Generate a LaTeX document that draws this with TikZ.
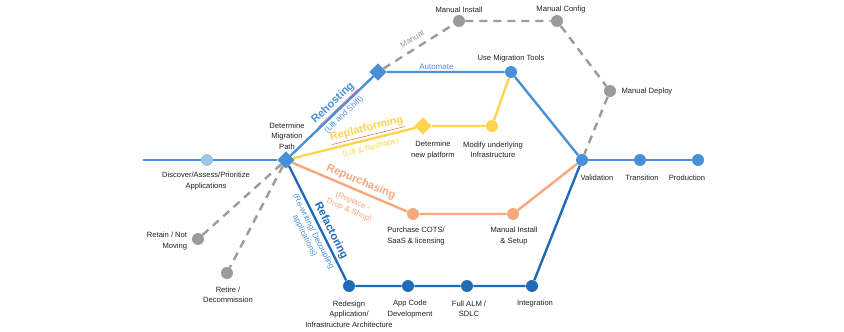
\documentclass[tikz,border=0pt]{standalone}
\usepackage{fontspec}
\setmainfont{Liberation Sans}
\usetikzlibrary{shapes.geometric}
\definecolor{mblue}{HTML}{4A90D9}
\definecolor{lblue}{HTML}{9DC3E6}
\definecolor{dblue}{HTML}{1F6BB8}
\definecolor{myellow}{HTML}{FFD54F}
\definecolor{morange}{HTML}{F7A97C}
\definecolor{mgray}{HTML}{9B9B9B}
\definecolor{ulred}{HTML}{E06666}
\definecolor{txt}{HTML}{222222}
\tikzset{
  stn/.style={circle, fill=#1, minimum size=9pt, inner sep=0pt},
  dia/.style={diamond, aspect=1, fill=#1, minimum size=13pt, inner sep=0pt},
  lbl/.style={font=\fontsize{5.7}{7.9}\selectfont, text=txt, align=center, inner sep=1pt},
  ttl/.style={font=\fontsize{8.3}{10}\selectfont\bfseries, inner sep=0pt},
  sub/.style={font=\fontsize{6}{7.2}\selectfont, align=center, inner sep=0pt},
  ln/.style={line width=1.8pt, draw=#1},
  dsh/.style={line width=1.8pt, draw=mgray, dash pattern=on 6pt off 4.5pt}
}
\begin{document}
\begin{tikzpicture}[x=0.75pt, y=-0.75pt]
\fill[white] (0,0) rectangle (844,332);
\useasboundingbox (0,0) rectangle (844,332);
% stations
\coordinate (start) at (143,160);
\node[stn=lblue] (disc) at (207,160) {};
\node[dia=mblue] (det) at (286,160) {};
\node[dia=mblue] (rh) at (378,72) {};
\node[stn=mblue] (umt) at (511,72) {};
\node[stn=mgray] (mi) at (459,21) {};
\node[stn=mgray] (mc) at (557,21) {};
\node[stn=mgray] (md) at (610,91) {};
\node[dia=myellow] (dnp) at (423,126) {};
\node[stn=myellow] (mui) at (492,126) {};
\node[stn=morange] (pc) at (413,214) {};
\node[stn=morange] (mis) at (513,214) {};
\node[stn=dblue] (rd) at (349,286) {};
\node[stn=dblue] (acd) at (408,286) {};
\node[stn=dblue] (alm) at (467,286) {};
\node[stn=dblue] (integ) at (532,286) {};
\node[stn=mblue] (val) at (582,160) {};
\node[stn=mblue] (tr) at (640,160) {};
\node[stn=mblue] (prod) at (698,160) {};
\node[stn=mgray] (ret) at (198,239) {};
\node[stn=mgray] (rtr) at (227,273) {};
% connectors
\draw[ln=mblue] (start) -- (disc) -- (det);
\draw[ln=mblue] (det) -- (rh) -- (umt) -- (val);
\draw[dsh] (rh) -- (mi) -- (mc) -- (md) -- (val);
\draw[ln=myellow] (det) -- (dnp) -- (mui) -- (umt);
\draw[ln=morange] (det) -- (pc) -- (mis) -- (val);
\draw[ln=dblue] (det) -- (rd) -- (acd) -- (alm) -- (integ) -- (val);
\draw[ln=mblue] (val) -- (tr) -- (prod);
\draw[dsh] (det) -- (ret);
\draw[dsh] (det) -- (rtr);
% route titles
\node[ttl, text=mblue, rotate=43.7] (t-rh) at (334,104) {\textcolor{ulred}{\underline{\textcolor{mblue}{Rehosting}}}};
\node[sub, text=mblue, rotate=43.7] (s-rh) at (344,115) {(Lift and Shift)};
\node[ttl, text=myellow, rotate=13.9] (t-rp) at (367,130) {\textcolor{ulred}{\underline{\textcolor{myellow}{Replatforming}}}};
\node[sub, text=myellow, rotate=13.9] (s-rp) at (371,148) {(Lift \& Reshape)};
\node[ttl, text=morange, rotate=-23] (t-pu) at (361,182) {Repurchasing};
\node[sub, text=morange, rotate=-23] (s-pu) at (351,206) {(Replace -\\Drop \& Shop)};
\node[ttl, text=dblue, rotate=-63.4] (t-rf) at (331,231) {Refactoring};
\node[sub, text=mblue, rotate=-63.4] (s-rf) at (309,234) {(Re-writing/ Decoupling\\applications)};
\path (rh) -- (umt) node[sub, text=mblue, above=1.5pt, pos=0.42] (a-lbl) {Automate};
\node[sub, text=mgray, rotate=32.2] (m-lbl) at (412,39) {Manual};
% station labels
\node[lbl] (l-disc) at (206,181) {Discover/Assess/Prioritize\\Applications};
\node[lbl] (l-det) at (287,136) {Determine\\Migration\\Path};
\node[lbl] (l-umt) at (511,59) {Use Migration Tools};
\node[lbl] (l-mi) at (459,10) {Manual Install};
\node[lbl] (l-mc) at (561,10) {Manual Config};
\node[lbl, anchor=west] (l-md) at (620,92) {Manual Deploy};
\node[lbl] (l-dnp) at (433,150) {Determine\\new platform};
\node[lbl] (l-mui) at (493,150) {Modify underlying\\Infrastructure};
\node[lbl] (l-pc) at (416,236) {Purchase COTS/\\SaaS \& licensing};
\node[lbl] (l-mis) at (514,236) {Manual Install\\\& Setup};
\node[lbl] (l-rd) at (349,314) {Redesign\\Application/\\Infrastructure Architecture};
\node[lbl] (l-acd) at (410,309) {App Code\\Development};
\node[lbl] (l-alm) at (469,309) {Full ALM /\\SDLC};
\node[lbl] (l-int) at (535,304) {Integration};
\node[lbl] (l-val) at (597,178) {Validation};
\node[lbl] (l-tr) at (642,178) {Transition};
\node[lbl] (l-prod) at (687,178) {Production};
\node[lbl, align=right] (l-ret) at (167,241) {Retain / Not\\Moving};
\node[lbl] (l-rtr) at (228,295) {Retire /\\Decommission};
\end{tikzpicture}
\end{document}
